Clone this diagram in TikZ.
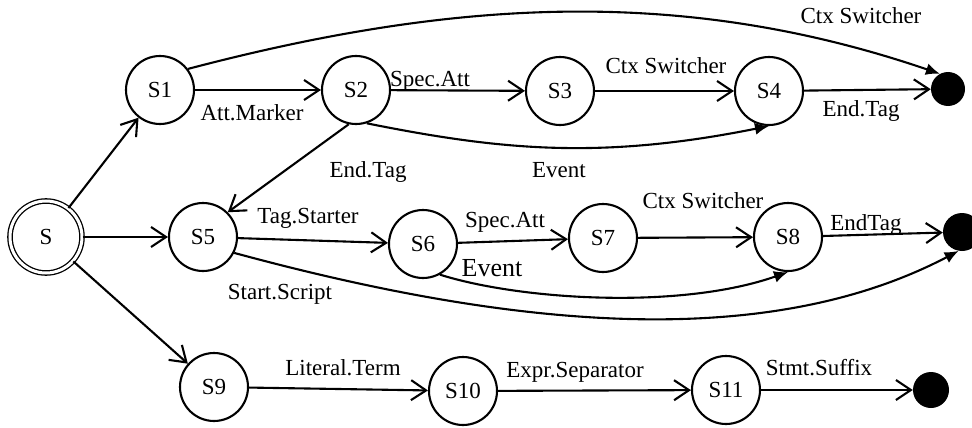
\documentclass[tikz,border=0pt]{standalone}
\usepackage{fontspec}
\setmainfont{Liberation Serif}
\usetikzlibrary{arrows.meta}
\begin{document}
\begin{tikzpicture}[x=1pt,y=-1pt,
  st/.style={circle,draw,line width=2.1pt,minimum size=68pt,inner sep=0pt,font=\fontsize{23}{27}\selectfont},
  fin/.style={circle,fill=black,inner sep=0pt,minimum size=#1},
  lab/.style={anchor=base,inner sep=0pt,font=\fontsize{23}{27}\selectfont},
  tr/.style={line width=2.1pt,-{Straight Barb[length=15pt,width=20pt,line width=2.1pt]}},
  cv/.style={line width=2.1pt,-{Latex[length=14pt,width=12pt]}}
]
\useasboundingbox (0,0) rectangle (972,428);
% states
\node[st,double,line width=1.3pt,double distance=3pt,minimum size=72pt] (S) at (46,237) {S};
\node[st] (S1) at (160,90) {S1};
\node[st] (S2) at (356,90) {S2};
\node[st] (S3) at (560,91) {S3};
\node[st] (S4) at (769,91) {S4};
\node[fin=34pt] (d1) at (948,89) {};
\node[st] (S5) at (203,237) {S5};
\node[st] (S6) at (423,244) {S6};
\node[st] (S7) at (603,238) {S7};
\node[st] (S8) at (788,237) {S8};
\node[fin=38pt] (d2) at (962,232) {};
\node[st] (S9) at (214,387) {S9};
\node[st] (S10) at (463,391) {S10};
\node[st] (S11) at (726,390) {S11};
\node[fin=36pt] (d3) at (931,390) {};
% straight transitions
\draw[tr] (S) -- (S1);
\draw[tr] (S) -- (S5);
\draw[tr] (S) -- (S9);
\draw[tr] (S1) -- (S2);
\draw[tr] (S2) -- (S3);
\draw[tr] (S3) -- (S4);
\draw[tr] (S4) -- (d1);
\draw[tr] (S2.-102) -- (S5.45);
\draw[tr] (S5) -- (S6);
\draw[tr] (S6) -- (S7);
\draw[tr] (S7) -- (S8);
\draw[tr] (S8) -- (d2);
\draw[tr] (S9) -- (S10);
\draw[tr] (S10) -- (S11);
\draw[tr] (S11) -- (d3);
% curved transitions
\draw[cv] (S1.37) .. controls (450,0) and (680,-15) .. (d1.118);
\draw[cv] (S2.-72) .. controls (500,150) and (600,160) .. (S4.south);
\draw[cv] (S6.-61) .. controls (520,300) and (680,310) .. (S8.south);
\draw[cv] (S5.-27) .. controls (500,325) and (760,355) .. (d2.-100);
% labels
\node[lab] (l1) at (861,24) {Ctx Switcher};
\node[lab] (l2) at (252,120) {Att.Marker};
\node[lab] (l3) at (430,86) {Spec.Att};
\node[lab] (l4) at (368,177) {End.Tag};
\node[lab] (l5) at (666,74) {Ctx Switcher};
\node[lab] (l6) at (861,117) {End.Tag};
\node[lab] (l7) at (559,177) {Event};
\node[lab] (l8) at (308,223) {Tag.Starter};
\node[lab] (l9) at (280,299) {Start.Script};
\node[lab] (l10) at (505,227) {Spec.Att};
\node[lab,font=\fontsize{26}{30}\selectfont] (l11) at (492,276) {Event};
\node[lab] (l12) at (703,208) {Ctx Switcher};
\node[lab] (l13) at (866,230) {EndTag};
\node[lab] (l14) at (343,375) {Literal.Term};
\node[lab] (l15) at (575,377) {Expr.Separator};
\node[lab] (l16) at (819,375) {Stmt.Suffix};
\end{tikzpicture}
\end{document}
